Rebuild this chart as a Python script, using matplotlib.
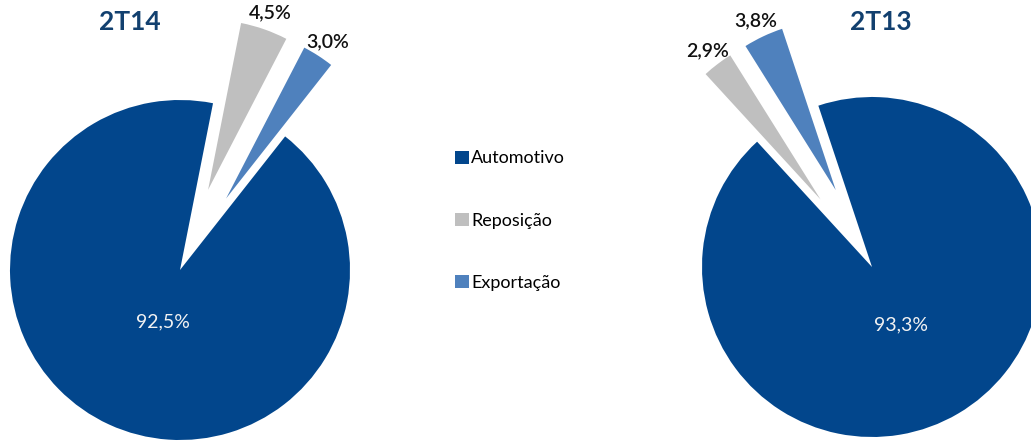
import numpy as np
import matplotlib.pyplot as plt
from matplotlib.patches import Patch

# data
categories = ['Automotivo', 'Reposição', 'Exportação']
share_2t14 = [92.5, 4.5, 3.0]
share_2t13 = [93.3, 2.9, 3.8]
titles = ['2T14', '2T13']

colors = ['#02468C', '#BFBFBF', '#4F81BD']
title_color = '#12406F'
font = 'Lato'

W, H = 1031, 441
fig = plt.figure(figsize=(W / 100, H / 100), dpi=100)
ax = fig.add_axes([0, 0, 1, 1])

R = 170
pies = [
    # (values, title, centre, startangle, big label dist, title x)
    (share_2t14, titles[0], (180, H - 270), 51.8, 0.32, 130),
    (share_2t13, titles[1], (872, H - 267), 108.4, 0.38, 881),
]


def fmt(v):
    return f'{v:.1f}%'.replace('.', ',')


for vals, title, center, start, big_d, tx in pies:
    wedges, _ = ax.pie(vals, colors=colors, radius=R, center=center,
                       startangle=start, counterclock=False,
                       explode=[0, 0.5 * R, 0.5 * R],
                       wedgeprops=dict(linewidth=0))
    for i, (w, v) in enumerate(zip(wedges, vals)):
        mid = np.deg2rad((w.theta1 + w.theta2) / 2)
        cx, cy = w.center
        if i == 0:
            # Excel puts the big label a bit off the bisector, towards the bottom
            mid += np.deg2rad(6 if title == '2T14' else -4)
            ax.text(cx + big_d * R * np.cos(mid), cy + big_d * R * np.sin(mid),
                    fmt(v), ha='center', va='center', color='#F2F2F2',
                    fontsize=14, family=font)
        else:
            ax.text(cx + 1.1 * R * np.cos(mid), cy + 1.1 * R * np.sin(mid),
                    fmt(v), ha='center', va='center', color='#111111',
                    fontsize=14, fontweight='semibold', family=font)
    ax.text(tx, H - 22, title, ha='center', va='center', fontsize=19,
            fontweight='bold', color=title_color, family=font)

ax.set_xlim(0, W)
ax.set_ylim(0, H)
ax.set_aspect('equal')
ax.axis('off')

handles = [Patch(facecolor=c, edgecolor='none') for c in colors]
leg = ax.legend(handles, categories, loc='center left',
                bbox_to_anchor=(455 / W, 0.5), frameon=False,
                borderpad=0, borderaxespad=0, handlelength=0.75,
                handleheight=0.75, handletextpad=0.15, labelspacing=2.55,
                prop={'family': font, 'size': 13})

fig.savefig('out.png', dpi=100)
